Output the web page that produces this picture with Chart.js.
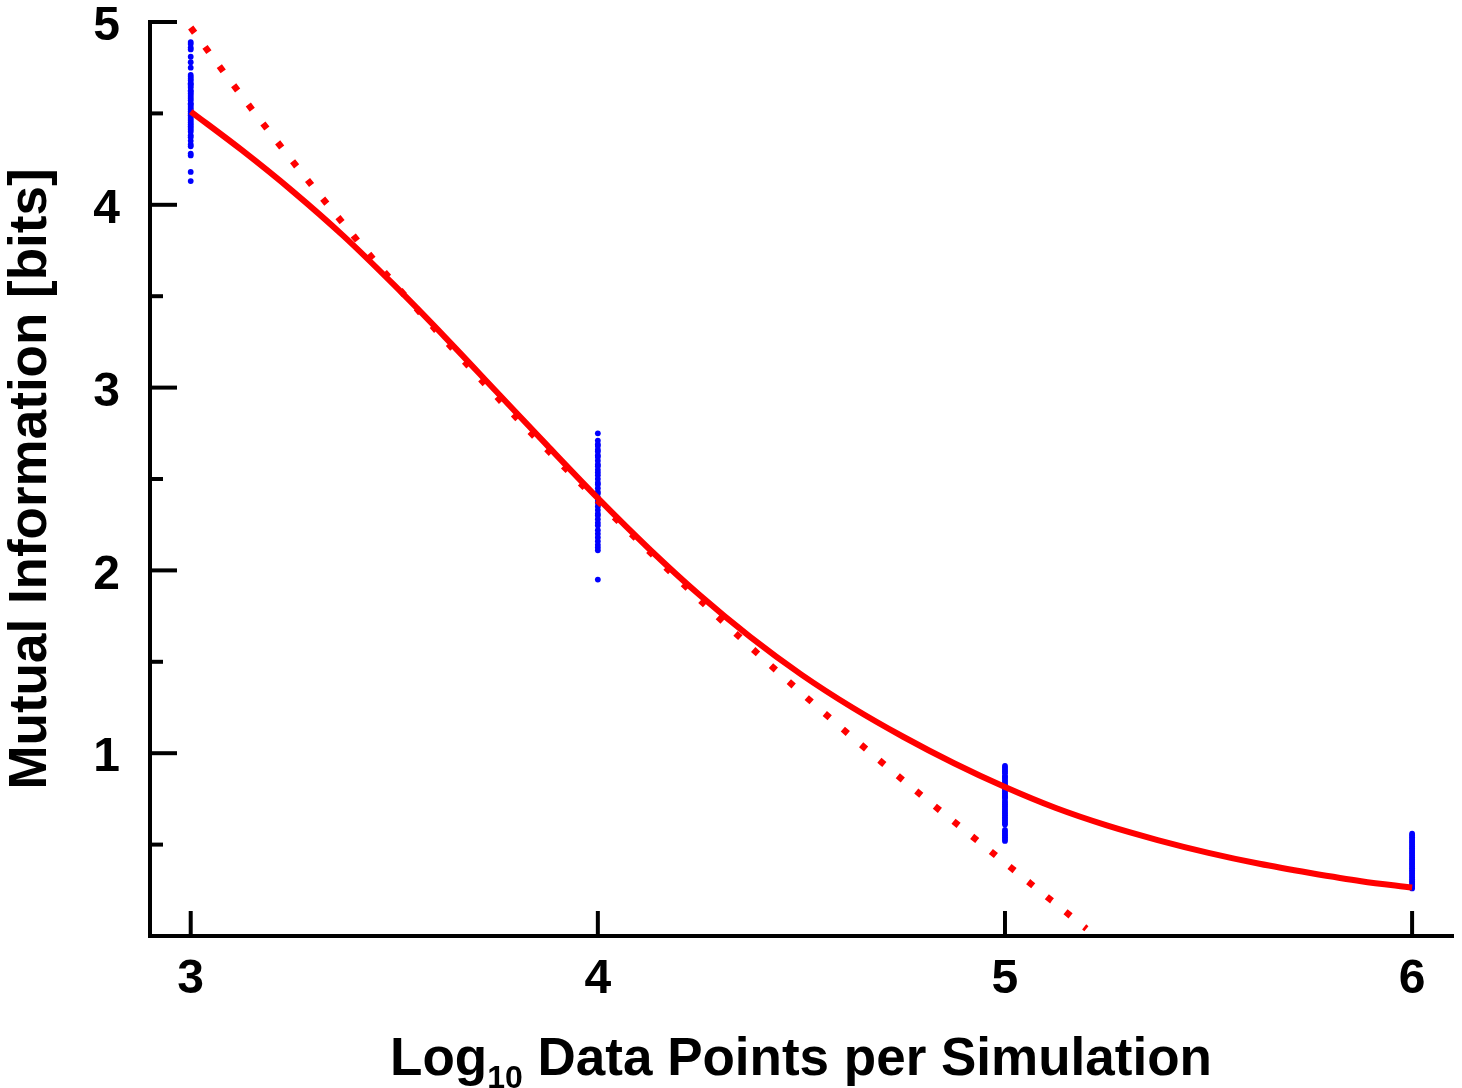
<!DOCTYPE html>
<html>
<head>
<meta charset="utf-8">
<style>
  html, body { margin: 0; padding: 0; background: #ffffff; }
  #wrap { width: 1462px; height: 1088px; }
</style>
<script src="https://cdn.jsdelivr.net/npm/chart.js@4.4.1/dist/chart.umd.min.js"></script>
</head>
<body>
<div id="wrap"><canvas id="c" width="1462" height="1088"></canvas></div>
<script>
// ---- Data ----
const xTicks = [3, 4, 5, 6];
const yTicks = [1, 2, 3, 4, 5];
const yMinorTicks = [0.5, 1.5, 2.5, 3.5, 4.5];

// Solid red fitted curve
const fitX = [3.0, 3.125, 3.25, 3.375, 3.5, 3.625, 3.75, 3.875, 4.0, 4.125, 4.25, 4.375, 4.5, 4.625, 4.75, 4.875, 5.0, 5.125, 5.25, 5.375, 5.5, 5.625, 5.75, 5.875, 6.0];
const fitY = [4.51, 4.30, 4.075, 3.83, 3.56, 3.275, 2.98, 2.685, 2.395, 2.12, 1.865, 1.635, 1.43, 1.25, 1.09, 0.945, 0.815, 0.70, 0.605, 0.525, 0.455, 0.395, 0.345, 0.30, 0.265];

// Dotted red curve
const dotX = [3.0, 3.1, 3.2, 3.3, 3.4, 3.5, 3.6, 3.7, 3.8, 3.9, 4.0, 4.1, 4.2, 4.3, 4.4, 4.5, 4.6, 4.7, 4.8, 4.9, 5.0, 5.1, 5.2];
const dotY = [4.97, 4.67, 4.38, 4.10, 3.83, 3.57, 3.32, 3.075, 2.835, 2.605, 2.38, 2.16, 1.945, 1.735, 1.53, 1.33, 1.135, 0.945, 0.76, 0.58, 0.40, 0.22, 0.04];

// Blue simulation estimates at log10 N = 3, 4, 5, 6
const sim3 = [4.89, 4.88, 4.86, 4.85, 4.81, 4.78, 4.75, 4.71, 4.70, 4.69, 4.68, 4.665, 4.66, 4.65, 4.64, 4.625, 4.62, 4.61, 4.60, 4.59, 4.58, 4.57, 4.555, 4.55, 4.54, 4.53, 4.52, 4.51, 4.50, 4.49, 4.48, 4.47, 4.46, 4.45, 4.44, 4.43, 4.42, 4.41, 4.40, 4.38, 4.37, 4.35, 4.33, 4.32, 4.28, 4.27, 4.18, 4.13];
const sim4 = [2.75, 2.71, 2.69, 2.68, 2.66, 2.65, 2.63, 2.62, 2.60, 2.58, 2.57, 2.55, 2.535, 2.52, 2.50, 2.48, 2.47, 2.45, 2.43, 2.42, 2.40, 2.385, 2.37, 2.35, 2.33, 2.31, 2.30, 2.28, 2.26, 2.245, 2.22, 2.20, 2.18, 2.16, 2.14, 2.125, 2.11, 1.95];
const sim5 = [0.93, 0.92, 0.91, 0.90, 0.89, 0.875, 0.87, 0.86, 0.85, 0.84, 0.83, 0.82, 0.81, 0.80, 0.79, 0.78, 0.77, 0.76, 0.755, 0.74, 0.73, 0.72, 0.71, 0.70, 0.69, 0.68, 0.67, 0.66, 0.65, 0.64, 0.63, 0.62, 0.61, 0.58, 0.57, 0.56, 0.55, 0.54, 0.53, 0.52];
const sim6 = [0.56, 0.55, 0.54, 0.53, 0.52, 0.51, 0.50, 0.49, 0.48, 0.47, 0.46, 0.45, 0.44, 0.43, 0.42, 0.41, 0.40, 0.39, 0.38, 0.37, 0.36, 0.35, 0.34, 0.33, 0.32, 0.31, 0.30, 0.29, 0.28, 0.27, 0.26];

const xTitleMain = 'Log';
const xTitleSub = '10';
const xTitleRest = ' Data Points per Simulation';
const yTitle = 'Mutual Information [bits]';

// ---- Chart ----
const FONT = "'Liberation Sans', Arial, Helvetica, sans-serif";
Chart.defaults.font.family = FONT;
Chart.defaults.color = '#000';

const pts = (xs, ys) => xs.map((x, i) => ({ x: x, y: ys[i] }));
const cluster = (x, ys) => ys.map(v => ({ x: x, y: v }));

const RED = '#ff0000';
const BLUE = '#0000ff';

const decor = {
  id: 'decor',
  beforeDatasetsDraw(chart) {
    const ctx = chart.ctx, xs = chart.scales.x, ys = chart.scales.y, a = chart.chartArea;
    ctx.save();
    ctx.strokeStyle = '#000';
    ctx.lineWidth = 4;
    const seg = (x1, y1, x2, y2) => { ctx.beginPath(); ctx.moveTo(x1, y1); ctx.lineTo(x2, y2); ctx.stroke(); };
    ctx.lineCap = 'square';
    seg(a.left, a.top, a.left, a.bottom);
    seg(a.left, a.bottom, a.right, a.bottom);
    ctx.lineCap = 'butt';
    yTicks.forEach(v => { const y = ys.getPixelForValue(v); seg(a.left, y, a.left + 27, y); });
    yMinorTicks.forEach(v => { const y = ys.getPixelForValue(v); seg(a.left, y, a.left + 13, y); });
    xTicks.forEach(v => { const x = xs.getPixelForValue(v); seg(x, a.bottom, x, a.bottom - 25); });
    ctx.restore();
  },
  afterDraw(chart) {
    const ctx = chart.ctx, a = chart.chartArea;
    ctx.save();
    ctx.fillStyle = '#000';
    ctx.textBaseline = 'alphabetic';
    ctx.textAlign = 'left';
    const big = 'bold 53px ' + FONT, small = 'bold 32px ' + FONT;
    ctx.font = big; const w1 = ctx.measureText(xTitleMain).width; const w3 = ctx.measureText(xTitleRest).width;
    ctx.font = small; const w2 = ctx.measureText(xTitleSub).width;
    const total = w1 + w2 + w3;
    let x = (a.left + a.right) / 2 - total / 2;
    const base = 1075;
    ctx.font = big; ctx.fillText(xTitleMain, x, base); x += w1;
    ctx.font = small; ctx.fillText(xTitleSub, x, base + 13); x += w2;
    ctx.font = big; ctx.fillText(xTitleRest, x, base);
    ctx.restore();
  }
};

new Chart(document.getElementById('c'), {
  type: 'scatter',
  data: {
    datasets: [
      { label: 'fit', data: pts(fitX, fitY), showLine: true, borderColor: RED, borderWidth: 6,
        pointRadius: 0, cubicInterpolationMode: 'monotone', order: 1, clip: false },
      { label: 'trend', data: pts(dotX, dotY), showLine: true, borderColor: RED, borderWidth: 6.5,
        borderDash: [6.5, 17.5], borderCapStyle: 'butt', pointRadius: 0, cubicInterpolationMode: 'monotone', order: 2, clip: false },
      { label: 'n3', data: cluster(3, sim3), pointRadius: 2.9, backgroundColor: BLUE, borderWidth: 0, order: 3 },
      { label: 'n4', data: cluster(4, sim4), pointRadius: 2.9, backgroundColor: BLUE, borderWidth: 0, order: 3 },
      { label: 'n5', data: cluster(5, sim5), pointRadius: 2.9, backgroundColor: BLUE, borderWidth: 0, order: 3 },
      { label: 'n6', data: cluster(6, sim6), pointRadius: 2.9, backgroundColor: BLUE, borderWidth: 0, order: 3 }
    ]
  },
  options: {
    responsive: false,
    animation: false,
    events: [],
    layout: { padding: { top: 22, right: 10, left: 0, bottom: 0 } },
    plugins: { legend: { display: false }, tooltip: { enabled: false } },
    scales: {
      x: {
        type: 'linear', min: 2.9, max: 6.098,
        grid: { display: false, drawTicks: false },
        border: { display: false },
        afterBuildTicks: s => { s.ticks = xTicks.map(v => ({ value: v })); },
        afterFit: s => { s.height = 152; s.paddingLeft = 0; s.paddingRight = 0; },
        ticks: { font: { size: 48, weight: 'bold' }, padding: 15, maxRotation: 0, autoSkip: false,
                 callback: v => String(v) }
      },
      y: {
        type: 'linear', min: 0, max: 5,
        grid: { display: false, drawTicks: false },
        border: { display: false },
        afterBuildTicks: s => { s.ticks = yTicks.map(v => ({ value: v })); },
        afterFit: s => { s.width = 150; s.paddingTop = 0; s.paddingBottom = 0; },
        ticks: { font: { size: 48, weight: 'bold' }, padding: 30, labelOffset: 5, autoSkip: false,
                 callback: v => String(v) },
        title: { display: true, text: yTitle, font: { size: 53, weight: 'bold' }, padding: { top: 0, bottom: 0 } }
      }
    }
  },
  plugins: [decor]
});
</script>
</body>
</html>
